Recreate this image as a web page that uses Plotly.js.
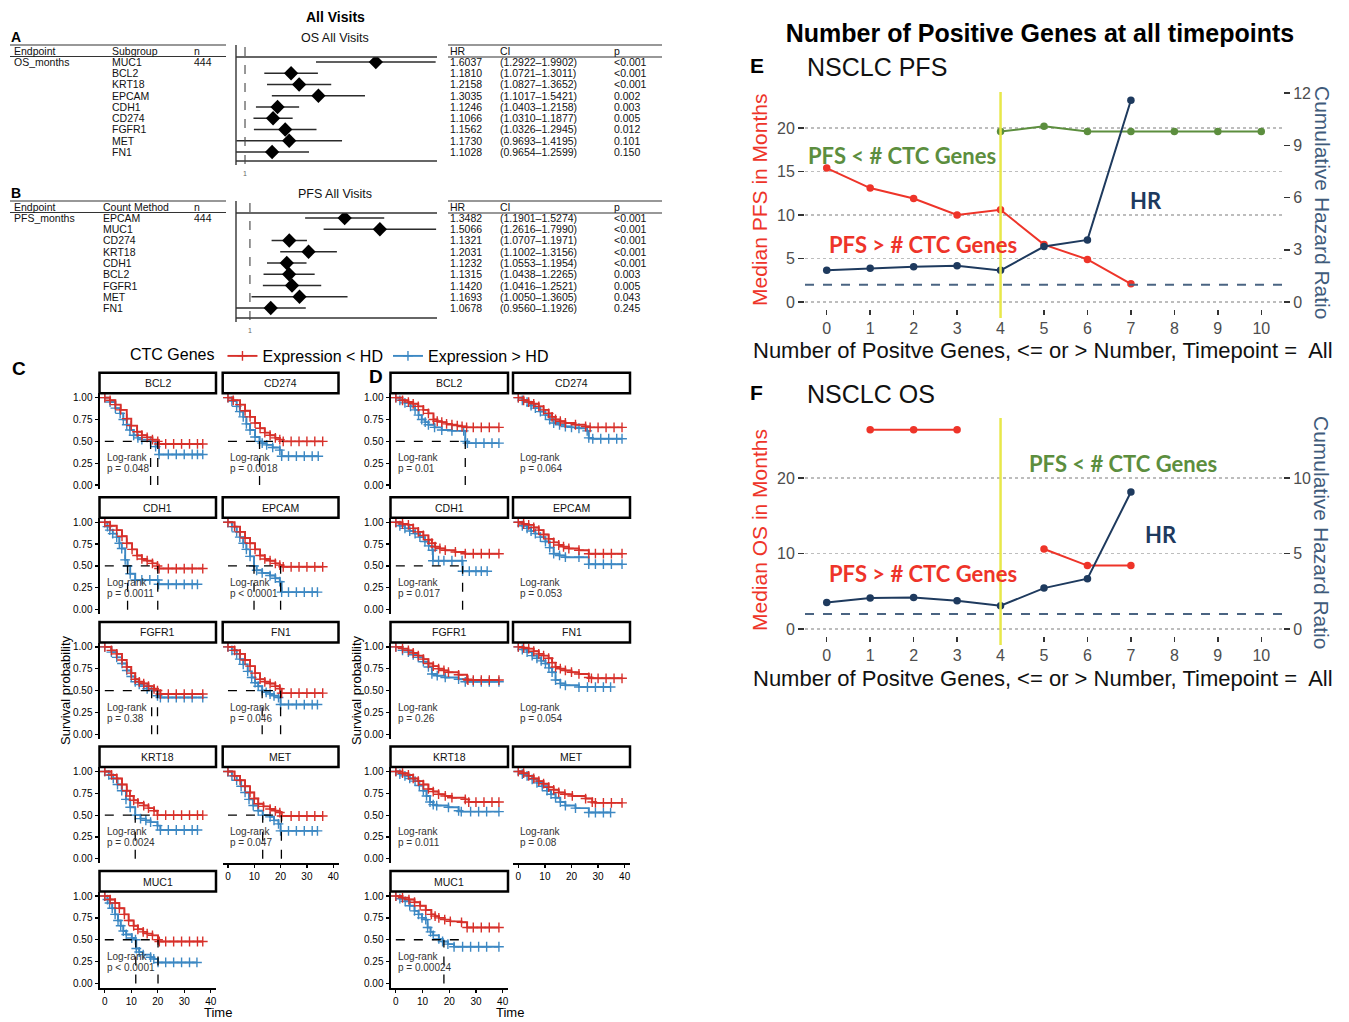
<!DOCTYPE html>
<html><head><meta charset="utf-8">
<script src="https://cdn.plot.ly/plotly-3.0.1.min.js"></script>
<style>html,body{margin:0;padding:0;background:#fff}</style>
</head><body><div id="chart" style="width:1349px;height:1022px"></div>
<script>
// ---------------- Panel A / B : forest plots ----------------
const osGenes = ['MUC1','BCL2','KRT18','EPCAM','CDH1','CD274','FGFR1','MET','FN1'];
const osHR = [1.6037,1.1810,1.2158,1.3035,1.1246,1.1066,1.1562,1.1730,1.1028];
const osLo = [1.2922,1.0721,1.0827,1.1017,1.0403,1.0310,1.0326,0.9693,0.9654];
const osHi = [1.9902,1.3011,1.3652,1.5421,1.2158,1.1877,1.2945,1.4195,1.2599];
const osP  = ['<0.001','<0.001','<0.001','0.002','0.003','0.005','0.012','0.101','0.150'];
const pfsGenes = ['EPCAM','MUC1','CD274','KRT18','CDH1','BCL2','FGFR1','MET','FN1'];
const pfsHR = [1.3482,1.5066,1.1321,1.2031,1.1232,1.1315,1.1420,1.1693,1.0678];
const pfsLo = [1.1901,1.2616,1.0707,1.1002,1.0553,1.0438,1.0416,1.0050,0.9560];
const pfsHi = [1.5274,1.7990,1.1971,1.3156,1.1954,1.2265,1.2521,1.3605,1.1926];
const pfsP  = ['<0.001','<0.001','<0.001','<0.001','<0.001','0.003','0.005','0.043','0.245'];

// ---------------- Panel C / D : Kaplan-Meier (lt/ls = Expression < HD, ht/hs = Expression > HD) ----------------
const C_BCL2 = {name:'BCL2', p:'p = 0.048', medH:20, medV:[17.3,20],
 lt:[0,2,4,6,8.3,10,12.2,14,16,18,20,20.5,23,26,29,32,35,37], ls:[1,0.97,0.92,0.86,0.76,0.68,0.61,0.57,0.545,0.52,0.5,0.47,0.47,0.47,0.47,0.47,0.47,0.47],
 ht:[0,2,4,5.8,7,8.3,9.5,10.9,12.5,14,17.3,19.2,20.5,24,27,30,33,35,37], hs:[1,0.95,0.88,0.82,0.75,0.69,0.63,0.57,0.54,0.52,0.5,0.44,0.35,0.35,0.35,0.35,0.35,0.35,0.35]};
const C_CD274 = {name:'CD274', p:'p = 0.0018', medH:21, medV:[12],
 lt:[0,2,4.6,6.5,8.4,10.3,12.2,14,16,18,19.7,21,24,27,30,33,36], ls:[1,0.97,0.92,0.85,0.78,0.71,0.65,0.6,0.57,0.54,0.52,0.5,0.5,0.5,0.5,0.5,0.5],
 ht:[0,1.5,3.3,4.5,5.8,7,8.4,10.3,12,13,14.7,17,19.7,20.4,23,26,29,32,34.3], hs:[1,0.96,0.9,0.84,0.78,0.7,0.63,0.55,0.5,0.48,0.46,0.43,0.4,0.33,0.33,0.33,0.33,0.33,0.33]};
const C_CDH1 = {name:'CDH1', p:'p = 0.0011', medH:20, medV:[8.6,20],
 lt:[0,2,4.5,6.5,8.3,10.3,12.2,14,16,18,19.9,20.5,24,27,30,33,37], ls:[1,0.96,0.91,0.84,0.76,0.69,0.62,0.58,0.56,0.53,0.5,0.47,0.47,0.47,0.47,0.47,0.47],
 ht:[0,1,1.9,3,4.5,5.5,6.4,7.7,8.6,9.6,11.5,14,17,20,20.3,24,27,30,33,35], hs:[1,0.95,0.91,0.87,0.83,0.76,0.7,0.57,0.5,0.41,0.34,0.34,0.34,0.34,0.29,0.29,0.29,0.29,0.29,0.29]};
const C_EPCAM = {name:'EPCAM', p:'p < 0.0001', medH:20, medV:[9.9,20],
 lt:[0,2.5,4.6,6.5,8.4,10.3,12.2,14,16,18,19.7,21,24,27,30,33,36], ls:[1,0.95,0.89,0.82,0.76,0.69,0.62,0.58,0.56,0.53,0.51,0.49,0.49,0.49,0.49,0.49,0.49],
 ht:[0,1.5,3.3,4.5,5.8,7,8.4,9.9,10.9,13,16,18,19.7,20.4,23,26,29,32,34], hs:[1,0.95,0.89,0.83,0.76,0.69,0.61,0.5,0.45,0.42,0.39,0.36,0.32,0.2,0.2,0.2,0.2,0.2,0.2]};
const C_FGFR1 = {name:'FGFR1', p:'p = 0.38', medH:20, medV:[17.7,19.9],
 lt:[0,2.5,4.5,6.5,8.3,10,11.5,13,14.7,16.5,18.6,19.9,21,24,27,30,33,37], ls:[1,0.96,0.92,0.85,0.77,0.7,0.63,0.6,0.58,0.55,0.52,0.5,0.46,0.46,0.46,0.46,0.46,0.46],
 ht:[0,2.5,4.5,6.5,8.3,10,11.5,13,14.7,16,17.7,19.9,21,24,27,30,33,37], hs:[1,0.94,0.88,0.81,0.73,0.66,0.6,0.57,0.55,0.52,0.5,0.44,0.42,0.42,0.42,0.42,0.42,0.42]};
const C_FN1 = {name:'FN1', p:'p = 0.046', medH:20, medV:[13,20],
 lt:[0,2.5,4.6,6.5,8.4,10.3,12.2,14,16,18,19.7,20.4,24,27,30,33,36], ls:[1,0.96,0.92,0.85,0.78,0.7,0.63,0.6,0.58,0.55,0.52,0.47,0.47,0.47,0.47,0.47,0.47],
 ht:[0,1.5,3.3,4.5,5.8,7.5,9,10.3,11.5,13,14.5,16,17.5,19.2,20,23,26,29,32,34], hs:[1,0.96,0.92,0.86,0.8,0.72,0.65,0.59,0.55,0.5,0.48,0.46,0.44,0.42,0.34,0.34,0.34,0.34,0.34,0.34]};
const C_KRT18 = {name:'KRT18', p:'p = 0.0024', medH:20, medV:[11.5],
 lt:[0,2.5,4.5,6.5,8.3,9.5,10.9,12.5,14.7,16.5,18.6,19.9,23,26,29,32,35,37], ls:[1,0.96,0.92,0.85,0.78,0.72,0.67,0.64,0.61,0.58,0.55,0.5,0.5,0.5,0.5,0.5,0.5,0.5],
 ht:[0,1.5,3.2,4.8,6.4,8,9.6,11.5,13.5,15.5,17.3,19.9,21,24,27,30,33,35], hs:[1,0.96,0.92,0.85,0.78,0.68,0.59,0.5,0.46,0.44,0.42,0.38,0.33,0.33,0.33,0.33,0.33,0.33]};
const C_MET = {name:'MET', p:'p = 0.047', medH:20.3, medV:[13.2,20.3],
 lt:[0,2.5,4.6,6.5,8.4,10,11.5,13.5,16,18,19.7,20.4,24,27,30,33,36], ls:[1,0.95,0.9,0.83,0.76,0.69,0.63,0.6,0.57,0.55,0.53,0.49,0.49,0.49,0.49,0.49,0.49],
 ht:[0,1.5,3.3,5,6.5,8,9.6,11.5,13.2,16,17.5,19.2,20,23,26,29,32,34], hs:[1,0.95,0.9,0.83,0.76,0.68,0.61,0.55,0.5,0.48,0.44,0.4,0.32,0.32,0.32,0.32,0.32,0.32]};
const C_MUC1 = {name:'MUC1', p:'p < 0.0001', medH:20.1, medV:[11.7,20.1],
 lt:[0,2,3.9,5.5,7.4,9,10.9,12.5,14.5,16,18,20.1,20.6,23,26,29,32,35,37], ls:[1,0.96,0.92,0.86,0.79,0.72,0.66,0.62,0.59,0.57,0.55,0.5,0.48,0.48,0.48,0.48,0.48,0.48,0.48],
 ht:[0,1,1.8,2.8,3.9,5,6,7,8.1,10.2,11.6,11.9,13,14.5,17.3,18.5,20.1,23,26,29,32,34.8], hs:[1,0.96,0.92,0.86,0.79,0.72,0.66,0.6,0.56,0.52,0.5,0.4,0.36,0.33,0.3,0.28,0.24,0.24,0.24,0.24,0.24,0.24]};

const D_BCL2 = {name:'BCL2', p:'p = 0.01', medH:26, medV:[26],
 lt:[0,2.5,4.7,6.5,8.4,10.3,12.2,14.1,15.5,17.2,19,21,23,24.8,26.5,29,32,35,38.6], ls:[1,0.97,0.95,0.93,0.9,0.86,0.82,0.75,0.73,0.72,0.7,0.69,0.68,0.67,0.66,0.66,0.66,0.66,0.66],
 ht:[0,1.5,3.4,5.5,7.2,8.5,9.7,11,12.2,14.5,17.2,21,25.4,26,26.8,30,33,36,38.6], hs:[1,0.97,0.94,0.9,0.86,0.8,0.75,0.72,0.69,0.66,0.63,0.62,0.62,0.5,0.48,0.48,0.48,0.48,0.48]};
const D_CD274 = {name:'CD274', p:'p = 0.064', medH:null, medV:[],
 lt:[0,2,3.9,5.8,7.7,9.5,11.4,12.7,14,15.8,17.7,21.5,25.3,27,30,33,36,39], ls:[1,0.97,0.95,0.93,0.9,0.86,0.82,0.78,0.75,0.73,0.71,0.69,0.67,0.66,0.66,0.66,0.66,0.66],
 ht:[0,1.5,3.3,4.8,6.4,8.3,10.2,11.8,13.3,15.5,17.7,20,22.8,25.9,26.5,28,31,34,37,39], hs:[1,0.97,0.95,0.91,0.88,0.84,0.8,0.75,0.71,0.69,0.67,0.66,0.65,0.62,0.54,0.53,0.53,0.53,0.53,0.53]};
const D_CDH1 = {name:'CDH1', p:'p = 0.017', medH:25, medV:[25],
 lt:[0,2.5,4.7,6.5,8.4,10.3,12.2,13.5,14.7,16.5,18.5,22.3,26,29,32,35,38.6], ls:[1,0.98,0.97,0.93,0.89,0.85,0.8,0.76,0.72,0.7,0.68,0.66,0.64,0.64,0.64,0.64,0.64],
 ht:[0,1.5,3.4,5.2,7.2,9,10.9,12.3,13.7,13.9,16,18,21,24.8,25,27.5,30,32,34.2], hs:[1,0.96,0.93,0.9,0.87,0.83,0.78,0.73,0.68,0.56,0.56,0.56,0.56,0.56,0.44,0.44,0.44,0.44,0.44]};
const D_EPCAM = {name:'EPCAM', p:'p = 0.053', medH:null, medV:[],
 lt:[0,2,3.9,5.8,7.7,9.5,11.4,13.3,15.2,17,19,22.8,26.5,29,32,35,39], ls:[1,0.98,0.97,0.94,0.91,0.86,0.81,0.77,0.74,0.72,0.7,0.68,0.64,0.64,0.64,0.64,0.64],
 ht:[0,1.5,3.3,4.8,6.4,8.3,10.2,11.8,13.3,15.5,17.7,22.8,26.5,29,32,35,39], hs:[1,0.96,0.93,0.9,0.87,0.83,0.78,0.71,0.64,0.62,0.6,0.6,0.52,0.52,0.52,0.52,0.52]};
const D_FGFR1 = {name:'FGFR1', p:'p = 0.26', medH:null, medV:[],
 lt:[0,2.5,4.7,6.5,8.4,10.3,12.2,14,16,18,19.7,23.5,26.7,27,29,32,35,38.6], ls:[1,0.98,0.96,0.93,0.9,0.86,0.81,0.78,0.75,0.73,0.71,0.68,0.63,0.62,0.62,0.62,0.62,0.62],
 ht:[0,2.5,4.7,6.5,8.4,10.3,12.2,13.5,15.5,18.5,23.5,26,29,32,35,38.6], hs:[1,0.96,0.94,0.91,0.88,0.83,0.77,0.69,0.67,0.65,0.63,0.6,0.6,0.6,0.6,0.6]};
const D_FN1 = {name:'FN1', p:'p = 0.054', medH:null, medV:[],
 lt:[0,2,3.9,5.8,7.7,9.5,11.4,12.7,14,15.8,17.7,20,22.8,26.5,27.5,30,33,36,39], ls:[1,0.99,0.98,0.95,0.92,0.9,0.87,0.82,0.77,0.75,0.73,0.71,0.69,0.65,0.64,0.64,0.64,0.64,0.64],
 ht:[0,1.5,3.3,5.2,7,8.6,10.2,11.5,12.7,14,15.8,17.7,22.8,26,29,32,34.7], hs:[1,0.97,0.94,0.9,0.87,0.84,0.81,0.76,0.71,0.62,0.58,0.56,0.54,0.54,0.54,0.54,0.54]};
const D_KRT18 = {name:'KRT18', p:'p = 0.011', medH:null, medV:[],
 lt:[0,2.5,4.7,6.5,8.4,10.3,12.2,14,16,18.5,21,26,27.3,30,33,36,38.6], ls:[1,0.98,0.96,0.92,0.89,0.85,0.8,0.77,0.74,0.72,0.7,0.68,0.65,0.65,0.65,0.65,0.65],
 ht:[0,1.5,3.4,5.2,7.2,8.8,10.3,11.5,12.8,14,15.3,19.7,23.5,24.5,28,31,34,38.6], hs:[1,0.97,0.95,0.92,0.89,0.84,0.78,0.72,0.65,0.62,0.61,0.59,0.55,0.54,0.54,0.54,0.54,0.54]};
const D_MET = {name:'MET', p:'p = 0.08', medH:null, medV:[],
 lt:[0,2,3.9,5.8,7.7,9.5,11.4,13.3,15.2,17.5,20.3,25.3,27.8,29,32,35,39], ls:[1,0.98,0.95,0.92,0.89,0.86,0.82,0.79,0.76,0.74,0.72,0.69,0.65,0.64,0.64,0.64,0.64],
 ht:[0,1.5,3.3,5.2,7,9,10.8,12.3,14,15.8,17.7,21.5,26.5,29,32,34.7], hs:[1,0.97,0.95,0.91,0.87,0.83,0.78,0.74,0.7,0.65,0.61,0.58,0.53,0.53,0.53,0.53]};
const D_MUC1 = {name:'MUC1', p:'p = 0.00024', medH:25.5, medV:[18],
 lt:[0,2.5,4.9,7,9.1,11.2,13.3,14.7,16.1,18.3,20.4,24.6,26.7,29,32,35,38.6], ls:[1,0.98,0.96,0.93,0.89,0.84,0.79,0.77,0.75,0.73,0.71,0.7,0.64,0.64,0.64,0.64,0.64],
 ht:[0,1.5,3.5,5.2,7,8.5,9.8,11.2,11.9,13,14,16.1,17.5,19.5,21.8,25,28,31,34,38.6], hs:[1,0.97,0.94,0.89,0.83,0.79,0.75,0.73,0.64,0.59,0.55,0.51,0.48,0.45,0.42,0.42,0.42,0.42,0.42,0.42]};

// ---------------- Panel E / F ----------------
const geneCount = [0,1,2,3,4,5,6,7,8,9,10];
const ePfsAboveX = [0,1,2,3,4,5,6,7];
const ePfsAbove  = [15.4,13.1,11.9,10.0,10.6,6.6,4.9,2.1];
const ePfsBelowX = [4,5,6,7,8,9,10];
const ePfsBelow  = [19.6,20.2,19.6,19.6,19.6,19.6,19.6];
const eHR        = [1.82,1.94,2.03,2.09,1.82,3.19,3.57,11.6];
const fOsAboveX  = [1,2,3,4,5,6,7];
const fOsAbove   = [26.4,26.4,26.4,null,10.6,8.4,8.4];
const fHR        = [1.76,2.05,2.09,1.87,1.54,2.71,3.33,9.07];

// ---------------- build ----------------
const W=1349,H=1022;
const px=v=>v/W, py=v=>1-v/H;
const F0='Liberation Sans, Arial, sans-serif';
const FN='Liberation Sans Narrow, Liberation Sans, Arial, sans-serif';
const FC='Lato, Open Sans, sans-serif';
const RED='#D7302A', BLUE='#3C88C3';
const data=[], shapes=[], ann=[];
const layout={width:W,height:H,margin:{l:0,r:0,t:0,b:0},paper_bgcolor:'#fff',plot_bgcolor:'rgba(0,0,0,0)',
  font:{family:F0,color:'#000'},showlegend:true,
  title:{text:'<b>Number of Positive Genes at all timepoints</b>',x:px(1040),xanchor:'center',y:py(33),yanchor:'middle',font:{size:25,color:'#000',family:F0}},
  legend:{orientation:'h',x:px(128),xanchor:'left',y:py(356),yanchor:'middle',bgcolor:'rgba(0,0,0,0)',
    title:{text:'CTC Genes',side:'left',font:{size:16,color:'#000'}},font:{size:16,color:'#000'},itemwidth:30,tracegroupgap:0}};

function T(text,x,y,o){ann.push(Object.assign({text:text,x:px(x),y:py(y),xref:'paper',yref:'paper',showarrow:false,xanchor:'left',yanchor:'middle',font:{size:10,color:'#000',family:F0}},o||{}));}
function L(x0,y0,x1,y1,o){shapes.push(Object.assign({type:'line',xref:'paper',yref:'paper',x0:px(x0),x1:px(x1),y0:py(y0),y1:py(y1),line:{color:'#333',width:1.2}},o||{}));}

// Forest plots
function forest(n, genes, hr, lo, hi, pv, cfg){
  const xa='x'+(n===1?'':n), ya='y'+(n===1?'':n);
  const sx=[],sy=[];
  genes.forEach((g,i)=>{sx.push(lo[i],hi[i],null);sy.push(i+1,i+1,null);});
  data.push({type:'scatter',mode:'lines',x:sx,y:sy,xaxis:xa,yaxis:ya,line:{color:'#2b2b2b',width:1.6},showlegend:false,hoverinfo:'skip'});
  data.push({type:'scatter',mode:'markers',x:hr,y:genes.map((g,i)=>i+1),xaxis:xa,yaxis:ya,marker:{symbol:'diamond',size:11,color:'#000'},showlegend:false});
  layout['xaxis'+(n===1?'':n)]={domain:[px(236),px(437)],anchor:ya,type:'log',range:[Math.log10(cfg.xmin),Math.log10(cfg.xmax)],
    tickvals:[1],ticktext:['1'],ticks:'outside',ticklen:6,tickcolor:'rgba(0,0,0,0)',showgrid:false,zeroline:false,showline:false,tickfont:{size:7,color:'#666',family:FN}};
  layout['yaxis'+(n===1?'':n)]={domain:[py(cfg.bot),py(cfg.top)],anchor:xa,range:cfg.yr,showgrid:false,zeroline:false,showticklabels:false,ticks:''};
  const hT=cfg.top-12;
  L(10,hT,226,hT); L(10,cfg.top-0.5,226,cfg.top-0.5); L(448,hT,662,hT); L(448,cfg.top,662,cfg.top);
  L(236,hT,236,cfg.bot+4,{line:{color:'#333',width:1.4}}); L(236,cfg.top,437,cfg.top,{line:{color:'#333',width:1.4}}); L(236,cfg.bot,437,cfg.bot,{line:{color:'#333',width:1.4}});
  shapes.push({type:'line',xref:xa,yref:'paper',x0:1,x1:1,y0:py(hT+2),y1:py(cfg.bot+4),line:{color:'#444',width:1.1,dash:'dash'}});
  const fh={size:10.5,color:'#111',family:FN};
  const hy=cfg.top-6;
  T('Endpoint',12,hy,{font:fh}); T(cfg.sub,cfg.subX,hy,{font:fh}); T('n',192,hy,{font:fh});
  T('HR',448,hy,{font:fh}); T('CI',498,hy,{font:fh}); T('p',612,hy,{font:fh});
  const rowAnn=(text,x,i)=>ann.push({text:text,x:px(x),y:i+1,xref:'paper',yref:ya,showarrow:false,xanchor:'left',yanchor:'middle',font:fh});
  rowAnn(cfg.endpoint,12,0); rowAnn('444',192,0);
  genes.forEach((g,i)=>{
    rowAnn(g,cfg.subX,i);
    rowAnn(hr[i].toFixed(4),448,i);
    rowAnn('('+lo[i].toFixed(4)+'–'+hi[i].toFixed(4)+')',498,i);
    rowAnn(pv[i],612,i);
  });
  T(cfg.title,335,cfg.top-19,{xanchor:'center',font:{size:12.5,color:'#111',family:F0}});
  T('<b>'+cfg.letter+'</b>',9,cfg.top-20,{font:{size:14,color:'#000',family:F0}});
}
forest(1,osGenes,osHR,osLo,osHi,osP,{xmin:0.968,xmax:2.0,top:57,bot:161,yr:[9.8,0.556],sub:'Subgroup',subX:110,endpoint:'OS_months',title:'OS All Visits',letter:'A'});
forest(2,pfsGenes,pfsHR,pfsLo,pfsHi,pfsP,{xmin:0.957,xmax:1.804,top:213,bot:318,yr:[9.889,0.556],sub:'Count Method',subX:101,endpoint:'PFS_months',title:'PFS All Visits',letter:'B'});
T('<b>All Visits</b>',335,17,{xanchor:'center',font:{size:14,color:'#000',family:F0}});

// Kaplan-Meier panels
const rowS1=[397.7,522.3,646.9,771.5,896.1];
let axn=3, legendDone=false;
function drawKM(list, cols){
  list.forEach((pn,i)=>{
    const r=Math.floor(i/2), c=i%2, n=axn++;
    const xa='x'+n, ya='y'+n;
    const x0=cols[c][0], x1=cols[c][1], s1=rowS1[r];
    const isBottom=(c===0&&r===4)||(c===1&&r===3);
    layout['xaxis'+n]={domain:[px(x0),px(x1)],anchor:ya,range:[-2,42],showgrid:false,zeroline:false,
      showline:isBottom,linecolor:'#000',linewidth:2,ticks:isBottom?'outside':'',ticklen:3,tickwidth:1.3,tickcolor:'#000',
      tickvals:[0,10,20,30,40],showticklabels:isBottom,tickfont:{size:10,color:'#000',family:F0}};
    layout['yaxis'+n]={domain:[py(s1+91.7),py(s1-4.4)],anchor:xa,range:[-0.05,1.05],showgrid:false,zeroline:false,
      showline:c===0,linecolor:'#000',linewidth:2,ticks:c===0?'outside':'',ticklen:3,tickwidth:1.3,tickcolor:'#000',
      tickvals:[0,0.25,0.5,0.75,1],ticktext:['0.00','0.25','0.50','0.75','1.00'],showticklabels:c===0,tickfont:{size:10,color:'#000',family:F0}};
    const first=!legendDone; legendDone=true;
    data.push({type:'scatter',mode:'lines+markers',x:pn.ht,y:pn.hs,xaxis:xa,yaxis:ya,name:'Expression > HD',legendgroup:'hi',legendrank:2,showlegend:first,
      line:{shape:'hv',color:BLUE,width:1.9},marker:{symbol:'cross-thin',size:7,color:BLUE,line:{width:1.4,color:BLUE}},hoverinfo:'skip'});
    data.push({type:'scatter',mode:'lines+markers',x:pn.lt,y:pn.ls,xaxis:xa,yaxis:ya,name:'Expression < HD',legendgroup:'lo',legendrank:1,showlegend:first,
      line:{shape:'hv',color:RED,width:1.9},marker:{symbol:'cross-thin',size:7,color:RED,line:{width:1.4,color:RED}},hoverinfo:'skip'});
    if(pn.medH!==null){
      shapes.push({type:'line',xref:xa,yref:ya,x0:0,x1:pn.medH,y0:0.5,y1:0.5,line:{color:'#000',width:1.3,dash:'dash'}});
      pn.medV.forEach(v=>shapes.push({type:'line',xref:xa,yref:ya,x0:v,x1:v,y0:0,y1:0.5,line:{color:'#000',width:1.3,dash:'dash'}}));
    }
    ann.push({text:'Log-rank',x:0,y:0.31,xref:xa,yref:ya,showarrow:false,xanchor:'left',yanchor:'middle',font:{size:10,color:'#333',family:FN}});
    ann.push({text:pn.p,x:0,y:0.185,xref:xa,yref:ya,showarrow:false,xanchor:'left',yanchor:'middle',font:{size:10,color:'#333',family:FN}});
    shapes.push({type:'rect',xref:'paper',yref:'paper',x0:px(x0),x1:px(x1),y0:py(s1-4.5),y1:py(s1-25),fillcolor:'#fff',line:{color:'#000',width:2.5}});
    T(pn.name,(x0+x1)/2,s1-14.5,{xanchor:'center',font:{size:10.5,color:'#111',family:F0}});
  });
}
drawKM([C_BCL2,C_CD274,C_CDH1,C_EPCAM,C_FGFR1,C_FN1,C_KRT18,C_MET,C_MUC1],[[99.5,216],[222.7,338.5]]);
drawKM([D_BCL2,D_CD274,D_CDH1,D_EPCAM,D_FGFR1,D_FN1,D_KRT18,D_MET,D_MUC1],[[390.5,508],[513,630]]);
T('<b>C</b>',19,369,{xanchor:'center',font:{size:19,color:'#000',family:F0}});
T('<b>D</b>',376,377,{xanchor:'center',font:{size:19,color:'#000',family:F0}});
T('Survival probability',65,690,{xanchor:'center',textangle:-90,font:{size:13,color:'#000',family:F0}});
T('Survival probability',356,690,{xanchor:'center',textangle:-90,font:{size:13,color:'#000',family:F0}});
T('Time',218,1012,{xanchor:'center',font:{size:13,color:'#000',family:F0}});
T('Time',510,1012,{xanchor:'center',font:{size:13,color:'#000',family:F0}});

// E and F
const ERED='#EE3429', EGREEN='#5C8E3E', ENAVY='#1E3A5E', YEL='#E8E84A', SLATE='#3F5B7B';
function hrPanel(xn, yl, yr, cfg){
  const xa='x'+xn, ya='y'+yl, yb='y'+yr;
  const tf={size:16,color:'#4D4D4D',family:F0};
  layout['xaxis'+xn]={domain:[px(805),px(1283)],anchor:ya,range:[-0.5,10.5],tickvals:geneCount,ticks:'outside',ticklen:5,tickwidth:1.5,tickcolor:'#333',
    showgrid:false,zeroline:false,showline:false,tickfont:tf};
  layout['yaxis'+yl]={domain:[py(cfg.bot),py(cfg.top)],anchor:xa,range:cfg.lr,tickvals:cfg.lt,ticks:'outside',ticklen:6,tickwidth:1.5,tickcolor:'#333',
    showgrid:true,gridcolor:'#BDBDBD',gridwidth:1.3,griddash:'dot',zeroline:false,showline:false,tickfont:tf};
  layout['yaxis'+yr]={overlaying:ya,side:'right',anchor:xa,range:cfg.rr,tickvals:cfg.rt,ticks:'outside',ticklen:6,tickwidth:1.5,tickcolor:'#333',
    showgrid:false,zeroline:false,showline:false,tickfont:tf};
  shapes.push({type:'line',xref:xa,yref:'paper',x0:4,x1:4,y0:py(cfg.ybot),y1:py(cfg.top),line:{color:YEL,width:2.5}});
  shapes.push({type:'line',xref:'paper',yref:yb,x0:px(805),x1:px(1283),y0:1,y1:1,line:{color:'#4A6482',width:2,dash:'dash'}});
  cfg.series.forEach(s=>data.push({type:'scatter',mode:'lines+markers',x:s.x,y:s.y,xaxis:xa,yaxis:s.right?yb:ya,showlegend:false,
    line:{color:s.c,width:2},marker:{size:7.5,color:s.c},hoverinfo:'skip'}));
  T('<b>'+cfg.letter+'</b>',757,cfg.letY,{xanchor:'center',font:{size:21,color:'#000',family:F0}});
  T(cfg.title,805,cfg.letY+1,{font:{size:25,color:'#111',family:F0}});
  T(cfg.ltitle,759,cfg.midY,{xanchor:'center',textangle:-90,font:{size:21,color:ERED,family:F0}});
  T('Cumulative Hazard Ratio',1322,cfg.midY+2,{xanchor:'center',textangle:90,font:{size:21,color:SLATE,family:F0}});
  T('Number of Positve Genes, &lt;= or &gt; Number, Timepoint =  All',1043,cfg.xtY,{xanchor:'center',font:{size:22,color:'#111',family:F0}});
  T('<b>PFS &lt; # CTC Genes</b>',cfg.gx,cfg.gy,{font:{size:22,color:EGREEN,family:FC}});
  T('<b>HR</b>',cfg.hx,cfg.hy,{font:{size:22,color:ENAVY,family:FC}});
  T('<b>PFS &gt; # CTC Genes</b>',827,cfg.ry,{font:{size:22,color:ERED,family:FC}});
}
hrPanel(21,21,22,{top:92,bot:309,ybot:318,lr:[-0.80,24.14],lt:[0,5,10,15,20],rr:[-0.40,12.07],rt:[0,3,6,9,12],
  series:[{x:ePfsBelowX,y:ePfsBelow,c:EGREEN},{x:ePfsAboveX,y:ePfsAbove,c:ERED},{x:ePfsAboveX,y:eHR,c:ENAVY,right:true}],
  letter:'E',letY:66,title:'NSCLC PFS',ltitle:'Median PFS in Months',midY:200,xtY:350,gx:806,gy:155,hx:1128,hy:200,ry:244});
hrPanel(23,23,24,{top:418,bot:636,ybot:645,lr:[-0.93,27.95],lt:[0,10,20],rr:[-0.46,13.97],rt:[0,5,10],
  series:[{x:fOsAboveX,y:fOsAbove,c:ERED},{x:ePfsAboveX,y:fHR,c:ENAVY,right:true}],
  letter:'F',letY:393,title:'NSCLC OS',ltitle:'Median OS in Months',midY:530,xtY:678,gx:1027,gy:463,hx:1143,hy:534,ry:573});

layout.shapes=shapes; layout.annotations=ann;
Plotly.newPlot('chart',data,layout,{displayModeBar:false,staticPlot:true});
</script></body></html>
